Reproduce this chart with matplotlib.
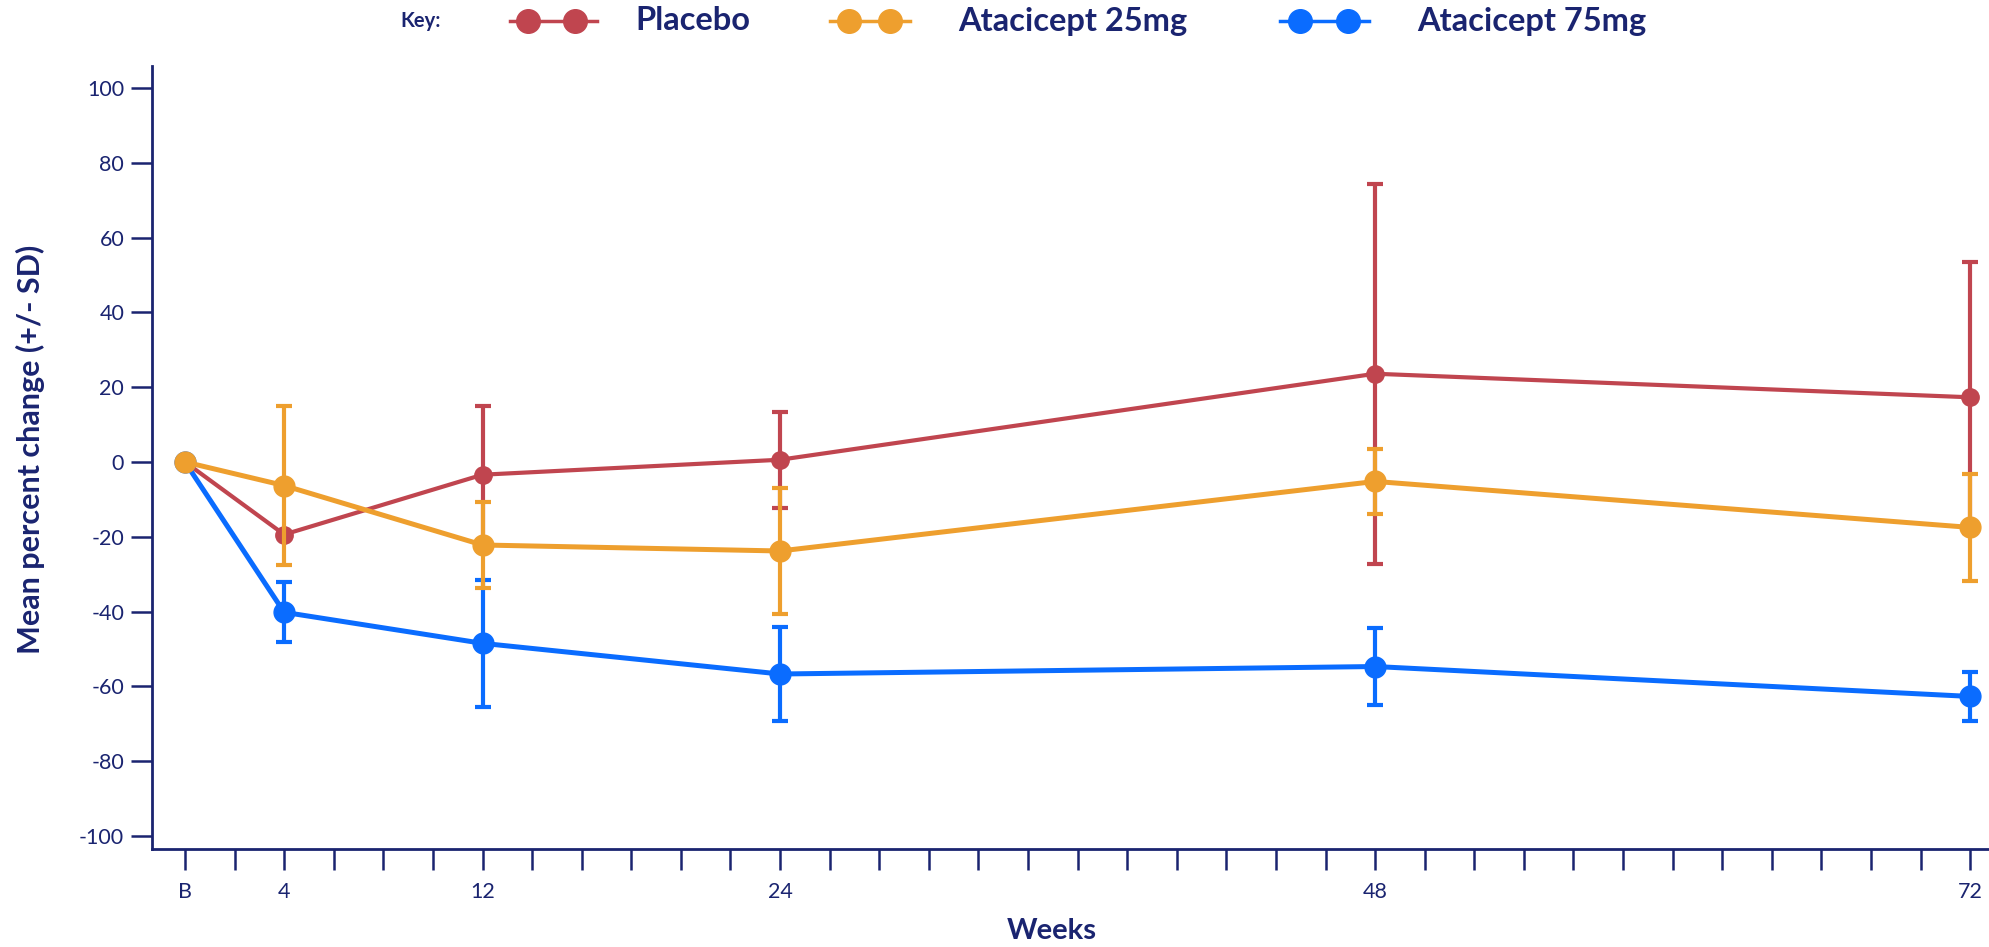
import matplotlib
matplotlib.use("Agg")
import matplotlib.pyplot as plt
from matplotlib.lines import Line2D

# data
weeks = [0, 4, 12, 24, 48, 72]
placebo_mean = [0, -19.4, -3.4, 0.6, 23.6, 17.3]
placebo_sd = [0, 0, 18.4, 12.9, 50.8, 36.2]
ata25_mean = [0, -6.3, -22.2, -23.8, -5.2, -17.5]
ata25_sd = [0, 21.2, 11.6, 16.9, 8.7, 14.3]
ata75_mean = [0, -40.2, -48.5, -56.7, -54.7, -62.7]
ata75_sd = [0, 8.0, 17.0, 12.6, 10.2, 6.5]

ytick_vals = [-100, -80, -60, -40, -20, 0, 20, 40, 60, 80, 100]
xtick_labels = {0: "B", 4: "4", 12: "12", 24: "24", 48: "48", 72: "72"}

navy = "#1a2470"
red = "#c0454f"
orange = "#ee9f2e"
blue = "#0a6cff"

plt.rcParams["font.family"] = ["Lato", "DejaVu Sans"]

fig = plt.figure(figsize=(19.9, 9.47), dpi=100)
ax = fig.add_axes([152 / 1990, 1 - 849 / 947, 1 - 152 / 1990, (849 - 66) / 947])

series = [
    (placebo_mean, placebo_sd, red, 12.5, 3.0, 2),
    (ata75_mean, ata75_sd, blue, 15, 3.6, 3),
    (ata25_mean, ata25_sd, orange, 15, 3.6, 4),
]
for mean, sd, col, ms, lw, z in series:
    ax.errorbar(weeks, mean, yerr=sd, color=col, marker="o", ms=ms, lw=lw,
                elinewidth=3, capsize=6, capthick=3, zorder=z)

ax.set_xlim(-1.33, 72.8)
ax.set_ylim(-103.5, 105.9)

for s in ["top", "right"]:
    ax.spines[s].set_visible(False)
for s in ["left", "bottom"]:
    ax.spines[s].set_color(navy)
    ax.spines[s].set_linewidth(2)

ax.set_yticks(ytick_vals)
ax.set_yticklabels([str(v) for v in ytick_vals])
xt = list(range(0, 73, 2))
ax.set_xticks(xt)
ax.set_xticklabels([xtick_labels.get(t, "") for t in xt])
ax.tick_params(axis="both", direction="out", length=15, width=1.8, color=navy,
               labelcolor=navy, labelsize=15.5)
ax.tick_params(axis="y", pad=5)
ax.tick_params(axis="x", pad=9)

fig.text(30 / 1990, 1 - 449 / 947, "Mean percent change (+/- SD)", rotation=90,
         ha="center", va="center", color=navy, fontsize=22, fontweight="bold")
fig.text(1052 / 1990, 1 - 931 / 947, "Weeks", ha="center", va="center",
         color=navy, fontsize=21, fontweight="bold")

# key across the top
ky = 1 - 21 / 947
fig.text(400 / 1990, ky, "Key:", ha="left", va="center", color=navy,
         fontsize=14.5, fontweight="bold")
keys = [
    ("Placebo", red, 510, 528, 575, 597, 635),
    ("Atacicept 25mg", orange, 830, 849, 890, 910, 958),
    ("Atacicept 75mg", blue, 1280, 1300, 1348, 1369, 1417),
]
for lab, col, x0, m1, m2, x1, tx in keys:
    fig.add_artist(Line2D([x0 / 1990, x1 / 1990], [ky, ky], color=col, lw=2.5,
                          transform=fig.transFigure))
    fig.add_artist(Line2D([m1 / 1990, m2 / 1990], [ky, ky], color=col, lw=0,
                          marker="o", ms=17, transform=fig.transFigure))
    fig.text(tx / 1990, ky, lab, ha="left", va="center", color=navy,
             fontsize=23.5, fontweight="bold")

fig.savefig("out.png", dpi=100)
